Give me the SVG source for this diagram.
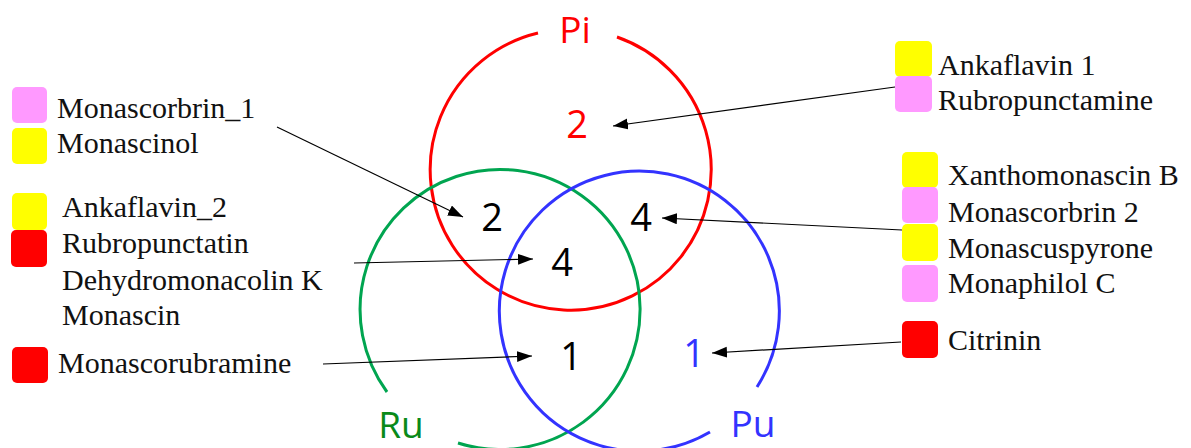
<svg xmlns="http://www.w3.org/2000/svg" width="1191" height="448" viewBox="0 0 1191 448">
<style>
.lbl{font-family:"Liberation Serif","Times New Roman",serif;font-size:30px;fill:#111}
.num{font-family:"Open Sans","Liberation Sans",sans-serif;font-size:38px;fill:#000}
.set{font-family:"Open Sans","Liberation Sans",sans-serif;font-size:37px}
.circ{fill:none;stroke-width:3}
.conn{stroke:#000;stroke-width:1.2;fill:none;marker-end:url(#ah)}
.pk{fill:#FF99FF}.yl{fill:#FFFF00}.rd{fill:#FF0000}
</style>
<defs>
<marker id="ah" markerUnits="userSpaceOnUse" markerWidth="16" markerHeight="12" refX="15" refY="5.5" orient="auto">
<path d="M0,0 L15,5.5 L0,11 z" fill="#000"/>
</marker>
</defs>
<rect width="1191" height="448" fill="#fff"/>
<g id="set-pi">
<path class="circ" stroke="#FF0000" d="M538,33 A140.5,140.5 0 1 0 617,37"/>
<text class="set" x="575" y="43" fill="#FF0000" text-anchor="middle">Pi</text>
</g>
<g id="set-ru">
<path class="circ" stroke="#00A550" d="M387,392 A140,140 0 1 1 458,443"/>
<text class="set" x="401" y="438" fill="#0A8A1A" text-anchor="middle">Ru</text>
</g>
<g id="set-pu">
<path class="circ" stroke="#3333FF" d="M710,432 A140,140 0 1 1 757,387"/>
<text class="set" x="753" y="437" fill="#3333FF" text-anchor="middle">Pu</text>
</g>
<g id="counts">
<text class="num" x="577" y="138" text-anchor="middle" style="fill:#FF0000">2</text>
<text class="num" x="492" y="231" text-anchor="middle">2</text>
<text class="num" x="641" y="231" text-anchor="middle">4</text>
<text class="num" x="562" y="276" text-anchor="middle">4</text>
<text class="num" x="571" y="370" text-anchor="middle">1</text>
<text class="num" x="694" y="367" text-anchor="middle" style="fill:#3333FF">1</text>
</g>
<g id="legend-rb-only">
<rect class="pk" x="12" y="87" width="35" height="36" rx="5"/>
<rect class="yl" x="12" y="128" width="35" height="36" rx="5"/>
<text class="lbl" x="57" y="118">Monascorbrin_1</text>
<text class="lbl" x="57" y="153">Monascinol</text>
</g>
<g id="legend-all">
<rect class="yl" x="12" y="193" width="35" height="37" rx="5"/>
<rect class="rd" x="11" y="230" width="36" height="37" rx="5"/>
<text class="lbl" x="62" y="217">Ankaflavin_2</text>
<text class="lbl" x="62" y="253">Rubropunctatin</text>
<text class="lbl" x="62" y="290">Dehydromonacolin K</text>
<text class="lbl" x="62" y="325">Monascin</text>
</g>
<g id="legend-ru-pu">
<rect class="rd" x="12" y="347" width="36" height="36" rx="5"/>
<text class="lbl" x="58" y="373">Monascorubramine</text>
</g>
<g id="legend-pi-only">
<rect class="yl" x="895" y="41" width="37" height="36" rx="5"/>
<rect class="pk" x="895" y="76" width="37" height="36" rx="5"/>
<text class="lbl" x="938" y="75">Ankaflavin 1</text>
<text class="lbl" x="938" y="110">Rubropunctamine</text>
</g>
<g id="legend-pi-pu">
<rect class="yl" x="902" y="152" width="36" height="36" rx="5"/>
<rect class="pk" x="902" y="187" width="36" height="36" rx="5"/>
<rect class="yl" x="902" y="224" width="36" height="37" rx="5"/>
<rect class="pk" x="902" y="265" width="36" height="37" rx="5"/>
<text class="lbl" x="948" y="185">Xanthomonascin B</text>
<text class="lbl" x="948" y="222">Monascorbrin 2</text>
<text class="lbl" x="948" y="258">Monascuspyrone</text>
<text class="lbl" x="948" y="293">Monaphilol C</text>
</g>
<g id="legend-pu-only">
<rect class="rd" x="902" y="321" width="36" height="37" rx="5"/>
<text class="lbl" x="948" y="350">Citrinin</text>
</g>
<g id="connectors">
<line class="conn" x1="277" y1="127" x2="463" y2="217"/>
<line class="conn" x1="354" y1="263" x2="533" y2="259"/>
<line class="conn" x1="323" y1="364" x2="532" y2="356"/>
<line class="conn" x1="895" y1="87" x2="613" y2="126"/>
<line class="conn" x1="902" y1="230" x2="662" y2="218"/>
<line class="conn" x1="901" y1="342" x2="712" y2="353"/>
</g>
</svg>
